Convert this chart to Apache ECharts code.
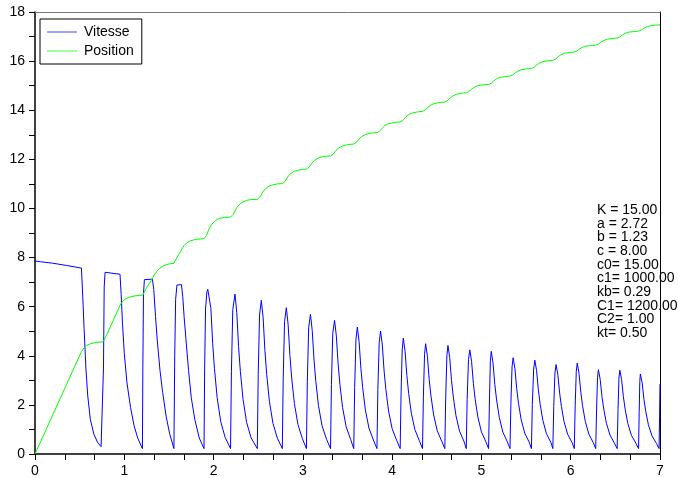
<!doctype html>
<html lang="fr">
<head>
    <meta charset="UTF-8">
    <title>Vitesse / Position</title>
    <style>
        *{margin: 0; padding: 0}
        body{background: #fff}
    </style>
</head>
<body>
<div id="block" style="width:678px;height:478px"></div>

<script src="https://cdn.jsdelivr.net/npm/echarts@6/dist/echarts.min.js"></script>
<script>
    // vitesse : [t, v]
    const vitesse = [
        [0,7.86],[0.06,7.83],[0.08,7.85],[0.2,7.77],[0.35,7.68],[0.52,7.57],
        [0.535,6.4],[0.55,5.1],[0.57,3.5],[0.59,2.4],[0.62,1.4],[0.66,0.8],[0.70,0.48],[0.74,0.3],[0.761,0.22],
        [0.767,3.5],[0.775,6.8],[0.785,7.4],[0.80,7.43],[0.952,7.32],
        [0.965,6.5],[0.98,5.3],[1.0,4.1],[1.03,2.9],[1.07,1.9],[1.11,1.15],[1.15,0.65],[1.203,0.22],
        [1.208,3.5],[1.215,6.5],[1.225,7.1],[1.24,7.15],[1.315,7.12],
        [1.33,6.7],[1.35,5.6],[1.37,4.6],[1.40,3.4],[1.43,2.5],[1.47,1.5],[1.51,0.8],[1.556,0.22],
        [1.565,4.0],[1.575,6.3],[1.59,6.88],[1.64,6.9],
        [1.655,6.4],[1.67,5.6],[1.69,4.7],[1.72,3.4],[1.75,2.3],[1.79,1.4],[1.84,0.65],[1.893,0.22],
        [1.90,3.5],[1.91,5.9],[1.925,6.6],[1.935,6.71],[1.95,6.68],
        [1.97,5.93],[1.99,4.50],[2.01,3.47],[2.04,2.30],[2.08,1.32],[2.13,0.67],[2.19,0.22],
        [2.20,3.37],[2.215,5.88],[2.24,6.51],[2.26,5.76],[2.28,4.37],[2.30,3.37],[2.33,2.23],[2.37,1.29],[2.42,0.66],[2.49,0.22],
        [2.50,3.24],[2.515,5.66],[2.535,6.26],[2.555,5.54],[2.575,4.21],[2.595,3.24],[2.625,2.15],[2.665,1.25],[2.715,0.64],[2.77,0.22],
        [2.78,3.09],[2.795,5.39],[2.815,5.96],[2.835,5.27],[2.855,4.01],[2.875,3.09],[2.905,2.06],[2.945,1.20],[2.995,0.62],[3.04,0.22],
        [3.05,2.96],[3.065,5.14],[3.085,5.69],[3.105,5.03],[3.125,3.83],[3.145,2.96],[3.175,1.97],[3.215,1.15],[3.265,0.60],[3.31,0.22],
        [3.32,2.83],[3.335,4.92],[3.355,5.44],[3.375,4.81],[3.395,3.67],[3.415,2.83],[3.445,1.89],[3.485,1.11],[3.535,0.59],[3.57,0.22],
        [3.58,2.70],[3.595,4.68],[3.61,5.17],[3.63,4.58],[3.65,3.49],[3.67,2.70],[3.70,1.80],[3.74,1.06],[3.79,0.57],[3.83,0.22],
        [3.84,2.62],[3.855,4.53],[3.87,5.01],[3.89,4.44],[3.91,3.38],[3.93,2.62],[3.96,1.75],[4.00,1.03],[4.05,0.56],[4.09,0.22],
        [4.10,2.47],[4.113,4.27],[4.125,4.72],[4.145,4.18],[4.165,3.19],[4.185,2.47],[4.215,1.66],[4.255,0.99],[4.305,0.54],[4.34,0.22],
        [4.35,2.36],[4.363,4.06],[4.375,4.49],[4.395,3.98],[4.415,3.04],[4.435,2.36],[4.465,1.59],[4.505,0.95],[4.555,0.52],[4.59,0.22],
        [4.60,2.32],[4.613,4.0],[4.625,4.42],[4.645,3.92],[4.665,2.99],[4.685,2.32],[4.715,1.56],[4.755,0.93],[4.805,0.51],[4.83,0.22],
        [4.84,2.23],[4.855,3.84],[4.87,4.24],[4.89,3.76],[4.91,2.87],[4.93,2.23],[4.96,1.51],[5.00,0.90],[5.05,0.50],[5.08,0.22],
        [5.09,2.20],[5.10,3.78],[5.11,4.18],[5.13,3.70],[5.15,2.83],[5.17,2.20],[5.20,1.49],[5.24,0.89],[5.29,0.50],[5.32,0.22],
        [5.33,2.07],[5.343,3.55],[5.355,3.92],[5.375,3.48],[5.395,2.66],[5.415,2.07],[5.445,1.40],[5.485,0.85],[5.535,0.48],[5.56,0.22],
        [5.57,2.02],[5.585,3.46],[5.598,3.82],[5.618,3.39],[5.638,2.60],[5.658,2.02],[5.688,1.37],[5.728,0.83],[5.778,0.47],[5.80,0.22],
        [5.81,1.93],[5.823,3.30],[5.836,3.64],[5.856,3.23],[5.876,2.48],[5.896,1.93],[5.926,1.31],[5.966,0.80],[6.016,0.46],[6.04,0.22],
        [6.05,1.96],[6.062,3.35],[6.073,3.70],[6.093,3.28],[6.113,2.52],[6.133,1.96],[6.163,1.33],[6.203,0.81],[6.253,0.46],[6.28,0.22],
        [6.29,1.83],[6.30,3.11],[6.31,3.43],[6.33,3.04],[6.35,2.34],[6.37,1.83],[6.40,1.25],[6.44,0.77],[6.49,0.44],[6.52,0.22],
        [6.53,1.82],[6.54,3.09],[6.55,3.41],[6.57,3.03],[6.59,2.33],[6.61,1.82],[6.64,1.24],[6.68,0.76],[6.73,0.44],[6.76,0.22],
        [6.767,1.74],[6.774,2.96],[6.78,3.26],[6.80,2.90],[6.82,2.23],[6.84,1.74],[6.87,1.19],[6.91,0.74],[6.96,0.43],[6.99,0.22],
        [6.995,1.5],[7.0,2.85]
    ];

    // position : [t, x]
    const position = [
        [0,0],[0.52,4.17],[0.55,4.33],[0.58,4.42],[0.62,4.49],[0.68,4.54],[0.761,4.57],
        [0.78,4.68],[0.80,4.83],[0.952,6.05],[0.97,6.16],[0.99,6.25],[1.02,6.33],[1.06,6.39],[1.12,6.44],[1.203,6.47],
        [1.22,6.57],[1.24,6.71],[1.315,7.15],[1.34,7.32],[1.37,7.46],[1.40,7.57],[1.44,7.67],[1.49,7.73],[1.556,7.77],
        [1.57,7.85],[1.59,8.0],[1.64,8.32],[1.67,8.49],[1.70,8.60],[1.74,8.68],[1.80,8.74],[1.893,8.77],
        [1.92,8.90],[1.95,9.17],[1.98,9.36],[2.02,9.51],[2.07,9.60],[2.12,9.63],[2.19,9.65],
        [2.22,9.76],[2.25,9.97],[2.28,10.13],[2.32,10.25],[2.37,10.33],[2.42,10.36],[2.49,10.37],
        [2.52,10.47],[2.55,10.66],[2.58,10.80],[2.62,10.91],[2.67,10.97],[2.72,11.0],[2.77,11.01],
        [2.80,11.10],[2.83,11.28],[2.86,11.41],[2.90,11.51],[2.95,11.56],[3.0,11.59],[3.04,11.60],
        [3.07,11.68],[3.10,11.84],[3.13,11.96],[3.17,12.05],[3.22,12.11],[3.27,12.13],[3.31,12.14],
        [3.34,12.21],[3.37,12.36],[3.40,12.46],[3.44,12.54],[3.49,12.59],[3.53,12.61],[3.57,12.62],
        [3.60,12.69],[3.63,12.83],[3.66,12.93],[3.70,13.01],[3.75,13.06],[3.79,13.08],[3.83,13.09],
        [3.86,13.15],[3.89,13.28],[3.92,13.38],[3.96,13.45],[4.01,13.49],[4.05,13.51],[4.09,13.52],
        [4.12,13.58],[4.15,13.71],[4.18,13.81],[4.22,13.88],[4.27,13.92],[4.30,13.94],[4.34,13.95],
        [4.37,14.01],[4.40,14.12],[4.43,14.20],[4.47,14.27],[4.52,14.31],[4.55,14.32],[4.59,14.33],
        [4.62,14.39],[4.65,14.50],[4.68,14.58],[4.72,14.65],[4.77,14.69],[4.80,14.70],[4.83,14.71],
        [4.86,14.76],[4.89,14.86],[4.92,14.94],[4.96,15.00],[5.01,15.03],[5.04,15.04],[5.08,15.05],
        [5.11,15.10],[5.14,15.20],[5.17,15.28],[5.21,15.34],[5.26,15.37],[5.29,15.38],[5.32,15.39],
        [5.35,15.44],[5.38,15.53],[5.41,15.60],[5.45,15.65],[5.50,15.68],[5.53,15.69],[5.56,15.70],
        [5.59,15.75],[5.62,15.85],[5.65,15.92],[5.69,15.98],[5.74,16.01],[5.77,16.02],[5.80,16.03],
        [5.83,16.08],[5.86,16.18],[5.89,16.26],[5.93,16.32],[5.98,16.35],[6.01,16.36],[6.04,16.37],
        [6.07,16.41],[6.10,16.50],[6.13,16.56],[6.17,16.61],[6.22,16.63],[6.25,16.64],[6.28,16.65],
        [6.31,16.69],[6.34,16.78],[6.37,16.84],[6.41,16.89],[6.46,16.92],[6.49,16.93],[6.52,16.94],
        [6.55,16.98],[6.58,17.07],[6.61,17.13],[6.65,17.18],[6.70,17.20],[6.73,17.21],[6.76,17.22],
        [6.79,17.26],[6.82,17.34],[6.85,17.39],[6.89,17.44],[6.94,17.46],[6.97,17.47],[7.0,17.48]
    ];

    const parametres = [
        'K = 15.00', 'a = 2.72', 'b = 1.23', 'c = 8.00', 'c0= 15.00',
        'c1= 1000.00', 'kb= 0.29', 'C1= 1200.00', 'C2= 1.00', 'kt= 0.50'
    ];
</script>
<script>
    const chart = echarts.init(document.getElementById('block'));
    const font = '"Liberation Sans", Arial, sans-serif';

    chart.setOption({
        animation: false,
        backgroundColor: '#fff',
        grid: {left: 35, right: 18, top: 12, bottom: 23},
        legend: {
            orient: 'vertical', left: 40, top: 19,
            padding: [6, 8, 6, 7], itemGap: 5, itemWidth: 30, itemHeight: 14,
            icon: 'path://M0,6.5 L30,6.5 L30,7.5 L0,7.5 Z',
            backgroundColor: '#fff', borderColor: '#000', borderWidth: 1, borderRadius: 0,
            textStyle: {fontFamily: font, fontSize: 14, color: '#000', padding: [0, 0, 0, 2]},
            data: [
                {name: 'Vitesse', itemStyle: {color: '#4040ff'}},
                {name: 'Position', itemStyle: {color: '#40ff40'}}
            ]
        },
        xAxis: [{
            type: 'value', min: 0, max: 7, interval: 1,
            axisLine: {lineStyle: {color: '#000', width: 1.5}},
            axisTick: {length: 6, lineStyle: {color: '#000'}},
            minorTick: {show: true, splitNumber: 3, length: 6, lineStyle: {color: '#000'}},
            splitLine: {show: false},
            axisLabel: {margin: 10, fontFamily: font, fontSize: 14, color: '#000'}
        }, {
            type: 'value', position: 'top', min: 0, max: 7,
            axisLine: {show: true, onZero: false, lineStyle: {color: '#777', width: 1}},
            axisTick: {show: false}, axisLabel: {show: false}, splitLine: {show: false}
        }],
        yAxis: [{
            type: 'value', min: 0, max: 18, interval: 2,
            axisLine: {show: true, lineStyle: {color: '#000', width: 1.5}},
            axisTick: {show: true, length: 6, lineStyle: {color: '#000'}},
            minorTick: {show: true, splitNumber: 2, length: 6, lineStyle: {color: '#000'}},
            splitLine: {show: false},
            axisLabel: {margin: 10, fontFamily: font, fontSize: 14, color: '#000'}
        }, {
            type: 'value', position: 'right', min: 0, max: 18,
            axisLine: {show: true, onZero: false, lineStyle: {color: '#000', width: 1}},
            axisTick: {show: false}, axisLabel: {show: false}, splitLine: {show: false}
        }],
        series: [{
            name: 'Vitesse', type: 'line', data: vitesse,
            symbol: 'none', lineStyle: {color: '#0000ff', width: 1}, itemStyle: {color: '#0000ff'}
        }, {
            name: 'Position', type: 'line', data: position,
            symbol: 'none',
            lineStyle: {color: '#00ff00', width: 1}, itemStyle: {color: '#00ff00'}
        }],
        graphic: [{
            type: 'text', left: 597, top: 203,
            style: {
                text: parametres.join('\n'),
                font: '14px ' + font, lineHeight: 13.7, fill: '#000'
            }
        }]
    });
</script>
</body>
</html>
